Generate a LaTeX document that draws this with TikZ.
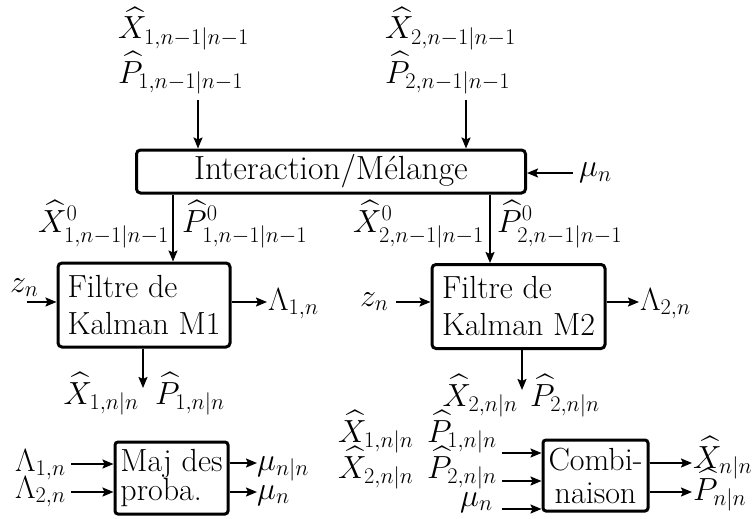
\RequirePackage{fix-cm}
\documentclass[tikz,border=0pt]{standalone}
\usepackage{amsmath,amssymb}
\usetikzlibrary{arrows.meta}
\tikzset{
  every node/.style={font=\fontsize{32}{38}\selectfont, inner sep=0pt},
  box/.style={draw, line width=3pt, rounded corners=4pt, inner sep=0pt},
  arr/.style={-{Stealth[length=11pt,width=9pt,inset=2pt]}, line width=1.8pt},
}
\begin{document}
\begin{tikzpicture}[x=1pt,y=-1pt]
\useasboundingbox (0,0) rectangle (752,519);

% top inputs
\node[anchor=base west] (xt1) at (118,39) {$\widehat{X}_{1,n-1|n-1}$};
\node[anchor=base west] (pt1) at (118,83) {$\widehat{P}_{1,n-1|n-1}$};
\node[anchor=base west] (xt2) at (385,39) {$\widehat{X}_{2,n-1|n-1}$};
\node[anchor=base west] (pt2) at (385,83) {$\widehat{P}_{2,n-1|n-1}$};

% interaction box
\node[box, minimum width=389pt, minimum height=43pt, font=\fontsize{33.5}{38}\selectfont] (inter) at (331,171.5) {Interaction/M\'elange};
\coordinate (ta1) at (198,100);
\coordinate (ta2) at (466,100);
\draw[arr] (ta1) -- (inter.north -| ta1);
\draw[arr] (ta2) -- (inter.north -| ta2);

\node[anchor=west] (mu0) at (579,173) {$\mu_n$};
\coordinate (mu0a) at (573,173);
\draw[arr] (mu0a) -- (inter.east |- mu0a);

% Kalman filters
\node[box, minimum width=172pt, minimum height=84pt, align=left, font=\fontsize{32}{37}\selectfont] (m1) at (144,305) {Filtre de\\Kalman M1};
\node[box, minimum width=173pt, minimum height=84pt, align=left, font=\fontsize{32}{37}\selectfont] (m2) at (518.5,306.5) {Filtre de\\Kalman M2};

\coordinate (d1x) at (173,0);
\coordinate (d2x) at (490,0);
\draw[arr] (inter.south -| d1x) -- (m1.north -| d1x);
\draw[arr] (inter.south -| d2x) -- (m2.north -| d2x);
\node[anchor=base east] (x01) at (169,232) {$\widehat{X}^0_{1,n-1|n-1}$};
\node[anchor=base west] (p01) at (182,232) {$\widehat{P}^0_{1,n-1|n-1}$};
\node[anchor=base east] (x02) at (484,232) {$\widehat{X}^0_{2,n-1|n-1}$};
\node[anchor=base west] (p02) at (497,232) {$\widehat{P}^0_{2,n-1|n-1}$};

% z inputs
\node[anchor=base west] (z1) at (10,292) {$z_n$};
\coordinate (z1a) at (27,302);
\draw[arr] (z1a) -- (m1.west |- z1a);
\node[anchor=base west] (z2) at (360,306) {$z_n$};
\coordinate (z2a) at (396,302);
\draw[arr] (z2a) -- (m2.west |- z2a);

% Lambda outputs
\node[anchor=base west] (l1) at (268,310) {$\Lambda_{1,n}$};
\coordinate (l1a) at (267,302);
\draw[arr] (m1.east |- l1a) -- (l1a);
\node[anchor=base west] (l2) at (640,310) {$\Lambda_{2,n}$};
\coordinate (l2a) at (639,302);
\draw[arr] (m2.east |- l2a) -- (l2a);

% filter outputs
\coordinate (b1e) at (143,388);
\coordinate (b2e) at (522,390);
\draw[arr] (m1.south -| b1e) -- (b1e);
\draw[arr] (m2.south -| b2e) -- (b2e);
\node[anchor=base east] (x1n) at (139,404) {$\widehat{X}_{1,n|n}$};
\node[anchor=base west] (p1n) at (155,404) {$\widehat{P}_{1,n|n}$};
\node[anchor=base east] (x2n) at (518,406) {$\widehat{X}_{2,n|n}$};
\node[anchor=base west] (p2n) at (530,406) {$\widehat{P}_{2,n|n}$};

% Maj des proba
\node[box, rounded corners=3pt, minimum width=113pt, minimum height=72pt, align=left, font=\fontsize{32}{27}\selectfont] (maj) at (171.5,478) {Maj des\\proba.};
\node[anchor=base west] (la1) at (15,471) {$\Lambda_{1,n}$};
\node[anchor=base west] (la2) at (15,498) {$\Lambda_{2,n}$};
\coordinate (la1a) at (71,464);
\coordinate (la2a) at (71,492);
\draw[arr] (la1a) -- (maj.west |- la1a);
\draw[arr] (la2a) -- (maj.west |- la2a);
\node[anchor=base west] (mnn) at (257,470) {$\mu_{n|n}$};
\node[anchor=base west] (mn) at (257,499) {$\mu_n$};
\coordinate (mnna) at (257,463);
\coordinate (mna) at (257,492);
\draw[arr] (maj.east |- mnna) -- (mnna);
\draw[arr] (maj.east |- mna) -- (mna);

% Combinaison
\node[box, rounded corners=3pt, minimum width=105pt, minimum height=71pt, align=center, font=\fontsize{32}{33}\selectfont] (comb) at (595.5,475.5) {Combi-\\naison};
\node[anchor=base west] (cx1) at (338,442) {$\widehat{X}_{1,n|n}$};
\node[anchor=base west] (cp1) at (427,442) {$\widehat{P}_{1,n|n}$};
\node[anchor=base west] (cx2) at (338,478) {$\widehat{X}_{2,n|n}$};
\node[anchor=base west] (cp2) at (427,478) {$\widehat{P}_{2,n|n}$};
\node[anchor=base west] (cmu) at (460,506) {$\mu_n$};
\coordinate (c1a) at (502,453);
\coordinate (c2a) at (502,481);
\coordinate (c3a) at (502,509);
\draw[arr] (c1a) -- (comb.west |- c1a);
\draw[arr] (c2a) -- (comb.west |- c2a);
\draw[arr] (c3a) -- (comb.west |- c3a);
\node[anchor=base west] (xo) at (693,468) {$\widehat{X}_{n|n}$};
\node[anchor=base west] (po) at (693,500) {$\widehat{P}_{n|n}$};
\coordinate (xoa) at (692,463);
\coordinate (poa) at (692,492);
\draw[arr] (comb.east |- xoa) -- (xoa);
\draw[arr] (comb.east |- poa) -- (poa);
\end{tikzpicture}
\end{document}
